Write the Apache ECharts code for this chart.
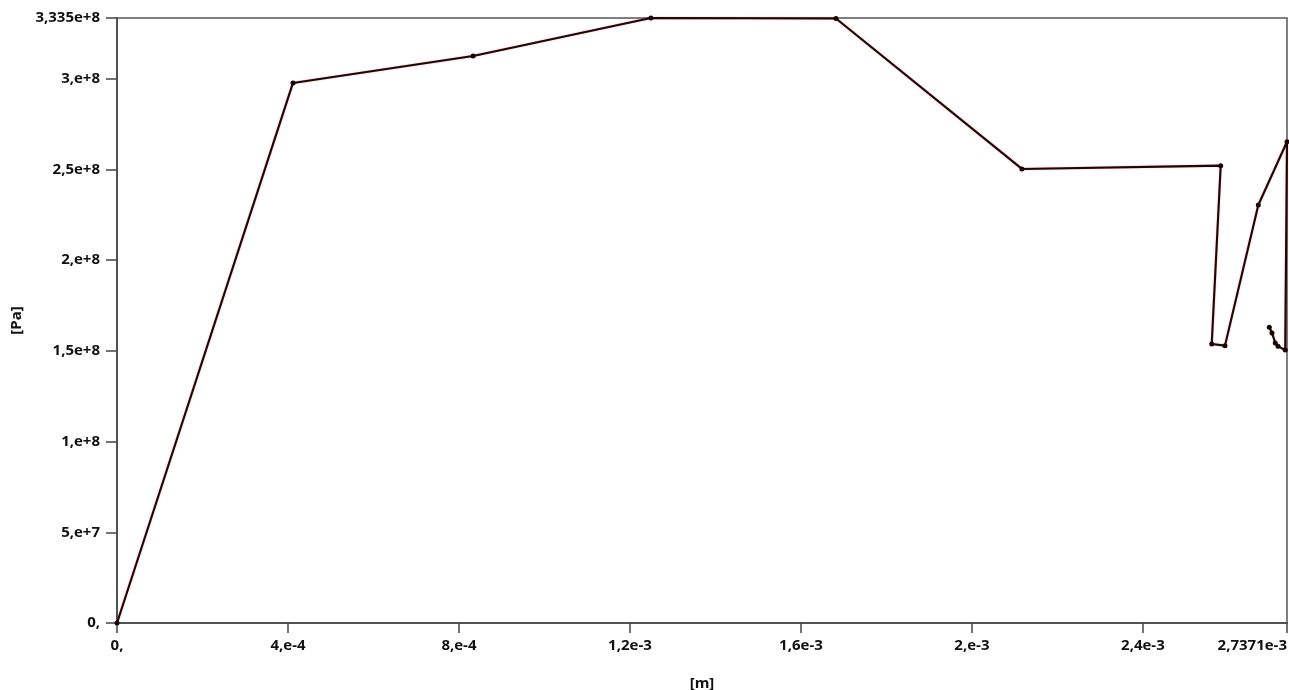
<!DOCTYPE html>
<html>
<head>
<meta charset="utf-8">
<script src="https://cdn.jsdelivr.net/npm/echarts@6/dist/echarts.min.js"></script>
<style>
  html, body { margin: 0; padding: 0; background: #fff; }
  #chart { width: 1289px; height: 690px; }
</style>
</head>
<body>
<div id="chart"></div>
<script>
// Path position along the probe line [m]
const positions = [
  0, 4.117e-4, 8.33e-4, 1.249e-3, 1.682e-3, 2.117e-3, 2.582e-3, 2.561e-3,
  2.592e-3, 2.670e-3, 2.7371e-3, 2.733e-3, 2.7161e-3, 2.7097e-3, 2.702e-3, 2.6957e-3
];
// Stress along the path [Pa]
const stresses = [
  0, 2.977e8, 3.126e8, 3.335e8, 3.332e8, 2.503e8, 2.521e8, 1.538e8,
  1.529e8, 2.304e8, 2.653e8, 1.505e8, 1.525e8, 1.5435e8, 1.599e8, 1.63e8
];

// Axis ticks and their labels
const xTickValues = [0, 4e-4, 8e-4, 1.2e-3, 1.6e-3, 2e-3, 2.4e-3, 2.7371e-3];
const xTickLabels = ['0,', '4,e-4', '8,e-4', '1,2e-3', '1,6e-3', '2,e-3', '2,4e-3', '2,7371e-3'];
const yTickValues = [0, 5e7, 1e8, 1.5e8, 2e8, 2.5e8, 3e8, 3.335e8];
const yTickLabels = ['0,', '5,e+7', '1,e+8', '1,5e+8', '2,e+8', '2,5e+8', '3,e+8', '3,335e+8'];

const xName = '[m]';
const yName = '[Pa]';

function labelFor(values, labels) {
  return function (v) {
    let best = 0, d = Infinity;
    values.forEach(function (t, i) {
      const dd = Math.abs(t - v);
      if (dd < d) { d = dd; best = i; }
    });
    return labels[best];
  };
}

const points = positions.map(function (x, i) { return [x, stresses[i]]; });

const font = { fontFamily: 'Open Sans', fontWeight: 'bold', fontSize: 15, color: '#111' };

const chart = echarts.init(document.getElementById('chart'), null, { renderer: 'canvas' });
chart.setOption({
  animation: false,
  backgroundColor: '#ffffff',
  grid: {
    left: 117, right: 2, top: 18, bottom: 67,
    outerBoundsMode: 'none',
    containLabel: false,
    show: true, borderColor: '#555', borderWidth: 1.5, backgroundColor: 'transparent'
  },
  xAxis: {
    type: 'value',
    min: 0,
    max: xTickValues[xTickValues.length - 1],
    name: xName,
    nameLocation: 'middle',
    nameGap: 53,
    nameTextStyle: Object.assign({}, font),
    axisLine: { show: true, onZero: false, lineStyle: { color: '#444', width: 1.5 } },
    axisTick: { show: true, length: 10, lineStyle: { color: '#444', width: 1.5 }, customValues: xTickValues },
    axisLabel: Object.assign({}, font, {
      margin: 15,
      customValues: xTickValues,
      alignMaxLabel: 'right',
      formatter: labelFor(xTickValues, xTickLabels)
    }),
    splitLine: { show: false }
  },
  yAxis: {
    type: 'value',
    min: 0,
    max: yTickValues[yTickValues.length - 1],
    name: yName,
    nameLocation: 'middle',
    nameGap: 90,
    nameRotate: 90,
    nameTextStyle: Object.assign({}, font),
    axisLine: { show: true, onZero: false, lineStyle: { color: '#444', width: 1.5 } },
    axisTick: { show: true, length: 11, lineStyle: { color: '#444', width: 1.5 }, customValues: yTickValues },
    axisLabel: Object.assign({}, font, {
      margin: 17,
      customValues: yTickValues,
      formatter: labelFor(yTickValues, yTickLabels)
    }),
    splitLine: { show: false }
  },
  series: [{
    type: 'line',
    data: points,
    showSymbol: true,
    symbol: 'circle',
    symbolSize: 5,
    itemStyle: { color: '#1a0505', borderWidth: 0 },
    lineStyle: { color: '#200606', width: 2.1, shadowColor: 'rgba(200,40,40,0.45)', shadowBlur: 1.5 },
    clip: false
  }]
});
</script>
</body>
</html>
